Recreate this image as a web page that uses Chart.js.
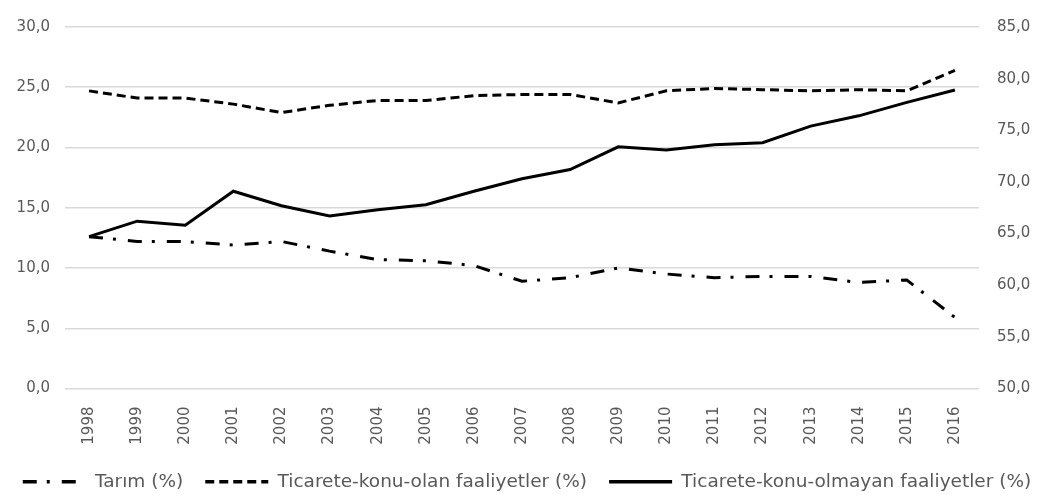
<!DOCTYPE html>
<html>
<head>
<meta charset="utf-8">
<script src="https://cdn.jsdelivr.net/npm/chart.js@4/dist/chart.umd.min.js"></script>
<style>
  html, body { margin: 0; padding: 0; background: #ffffff; }
  #wrap { width: 1054px; height: 495px; position: relative; }
</style>
</head>
<body>
<div id="wrap"><canvas id="c"></canvas></div>
<script>
const years = ['1998','1999','2000','2001','2002','2003','2004','2005','2006','2007','2008','2009','2010','2011','2012','2013','2014','2015','2016'];
const tarim = [12.6, 12.2, 12.2, 11.9, 12.2, 11.4, 10.7, 10.6, 10.2, 8.9, 9.2, 10.0, 9.5, 9.2, 9.3, 9.3, 8.8, 9.0, 5.9];
const ticaretOlan = [24.7, 24.1, 24.1, 23.6, 22.9, 23.5, 23.9, 23.9, 24.3, 24.4, 24.4, 23.7, 24.7, 24.9, 24.8, 24.7, 24.8, 24.7, 26.4];
const ticaretOlmayan = [64.7, 66.2, 65.8, 69.1, 67.7, 66.7, 67.3, 67.8, 69.1, 70.3, 71.2, 73.4, 73.1, 73.6, 73.8, 75.4, 76.4, 77.7, 78.9];
const seriesNames = ['Tarım (%)', 'Ticarete-konu-olan faaliyetler (%)', 'Ticarete-konu-olmayan faaliyetler (%)'];

const FONT = "'DejaVu Sans', sans-serif";
const GREY = '#595959';
const fmt = v => v.toFixed(1).replace('.', ',');

new Chart(document.getElementById('c'), {
  type: 'line',
  data: {
    labels: years,
    datasets: [
      { label: seriesNames[0], data: tarim, yAxisID: 'y', borderColor: '#000', backgroundColor: '#000',
        borderWidth: 3, borderDash: [14, 10, 3, 12], borderCapStyle: 'butt', pointRadius: 0, tension: 0, fill: false },
      { label: seriesNames[1], data: ticaretOlan, yAxisID: 'y', borderColor: '#000', backgroundColor: '#000',
        borderWidth: 3, borderDash: [9, 5], borderCapStyle: 'butt', pointRadius: 0, tension: 0, fill: false },
      { label: seriesNames[2], data: ticaretOlmayan, yAxisID: 'y1', borderColor: '#000', backgroundColor: '#000',
        borderWidth: 3, borderCapStyle: 'butt', pointRadius: 0, tension: 0, fill: false }
    ]
  },
  options: {
    responsive: true,
    maintainAspectRatio: false,
    animation: false,
    layout: { padding: { top: 16, bottom: -6, left: 0, right: 0 } },
    plugins: {
      tooltip: { enabled: false },
      legend: {
        position: 'bottom',
        labels: {
          usePointStyle: true,
          pointStyle: 'line',
          pointStyleWidth: 63,
          boxWidth: 63,
          boxHeight: 18,
          padding: 22,
          color: GREY,
          font: { family: FONT, size: 18.5 },
          generateLabels: chart => chart.data.datasets.map((ds, i) => ({
            text: ds.label,
            fillStyle: '#000',
            strokeStyle: '#000',
            fontColor: GREY,
            lineWidth: 3.5,
            lineDash: ds.borderDash || [],
            lineCap: 'butt',
            pointStyle: 'line',
            hidden: false,
            datasetIndex: i
          }))
        }
      }
    },
    scales: {
      x: {
        offset: true,
        grid: { display: false },
        border: { display: false },
        ticks: { color: GREY, font: { family: FONT, size: 15 }, minRotation: 90, maxRotation: 90, autoSkip: false, padding: 10 },
        afterFit: s => { s.height = 62; }
      },
      y: {
        position: 'left',
        min: 0, max: 30,
        ticks: { stepSize: 5, color: GREY, font: { family: FONT, size: 15 }, padding: 15, callback: v => fmt(v) },
        grid: { color: '#d9d9d9', lineWidth: 1.5, drawTicks: false },
        border: { display: false },
        afterFit: s => { s.width = 65; }
      },
      y1: {
        position: 'right',
        min: 50, max: 85,
        ticks: { stepSize: 5, color: GREY, font: { family: FONT, size: 15 }, padding: 18, callback: v => fmt(v) },
        grid: { drawOnChartArea: false, drawTicks: false },
        border: { display: false },
        afterFit: s => { s.width = 75; }
      }
    }
  }
});
</script>
</body>
</html>
